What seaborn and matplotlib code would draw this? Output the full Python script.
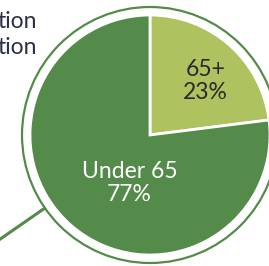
import matplotlib
matplotlib.use("Agg")
import numpy as np
import matplotlib.pyplot as plt
import seaborn as sns
from matplotlib.patches import Circle

# Data
groups = ["65+", "Under 65"]
shares = [23, 77]
label_colors = ["#2a2a2a", "white"]
label_offsets = [(0.46, 0.45), (-0.17, -0.40)]  # label position, in radius units

sns.set_style("white")
plt.rcParams['font.family'] = ['Lato', 'DejaVu Sans']

colors = ["#aec25f", "#548b4a"]

fig = plt.figure(figsize=(2.69, 2.66), dpi=100)
ax = fig.add_axes([0, 0, 1, 1])

cx, cy, r = 150, 131, 120
wedges, _ = ax.pie(shares, colors=colors, startangle=90, counterclock=False,
                   center=(cx, cy), radius=r, frame=True,
                   wedgeprops=dict(edgecolor='white', linewidth=2.0))
ax.set_xlim(0, 269)
ax.set_ylim(0, 266)
ax.set_aspect('equal')
ax.axis('off')

# outer thin ring
ax.add_patch(Circle((cx, cy), r + 8, fill=False, edgecolor=colors[1], linewidth=1.6))

# connector line towards lower-left
ang = np.deg2rad(214.8)
x0, y0 = cx + (r + 8) * np.cos(ang), cy + (r + 8) * np.sin(ang)
ax.plot([x0, x0 + 80 * np.cos(ang)], [y0, y0 + 80 * np.sin(ang)],
        color=colors[1], linewidth=2.2, solid_capstyle='butt')

# slice labels
for g, s, c, (ox, oy) in zip(groups, shares, label_colors, label_offsets):
    ax.text(cx + ox * r, cy + oy * r, f"{g}\n{s}%",
            ha='center', va='center', color=c, fontsize=16.5, linespacing=1.1)

# partially visible legend text at top-left (cut off in the source too)
ax.text(37, 244, "tion", ha='right', va='center', color="#2b2f4a", fontsize=16.5)
ax.text(37, 218, "tion", ha='right', va='center', color="#2b2f4a", fontsize=16.5)

plt.savefig('out.png', dpi=100)
